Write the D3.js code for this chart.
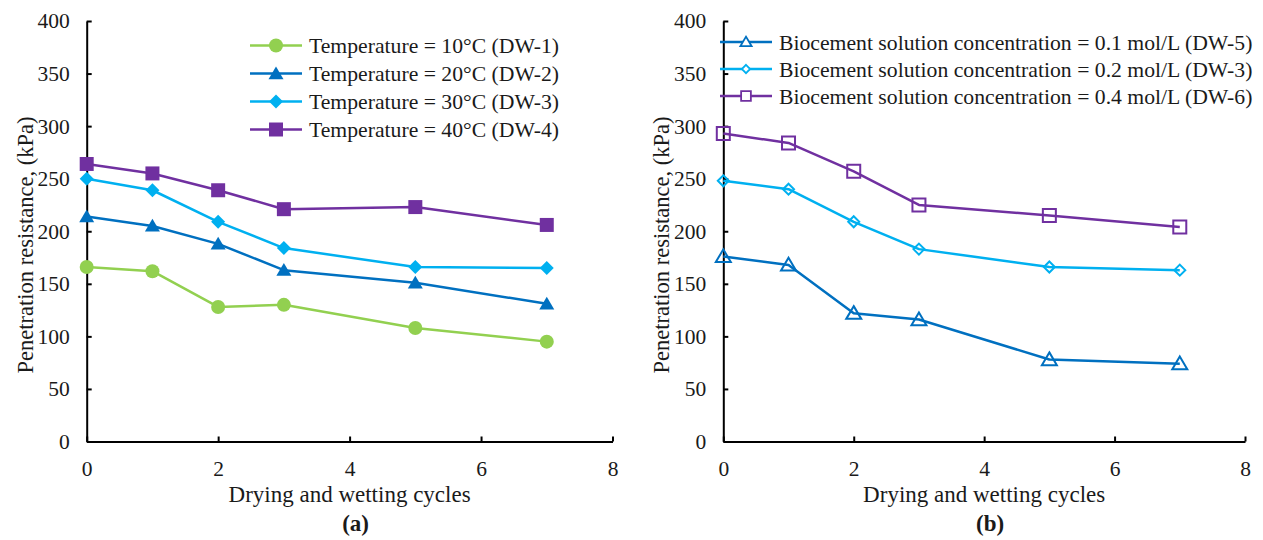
<!DOCTYPE html>
<html>
<head>
<meta charset="utf-8">
<script src="https://cdn.jsdelivr.net/npm/d3@7"></script>
<style>
  html, body { margin: 0; padding: 0; background: #fff; }
  svg { display: block; font-family: "Liberation Serif", "Times New Roman", serif; }
  .axis path, .axis line { stroke: #000; stroke-width: 2; }
  .axis text { fill: #1a1a1a; font-size: 21.5px; font-family: "Liberation Serif", "Times New Roman", serif; }
</style>
</head>
<body>
<svg id="chart" width="1263" height="540"></svg>
<script>
// ---- data ----
const cycles = [0, 1, 2, 3, 5, 7];
const xTicks = [0, 2, 4, 6, 8];
const yTicks = [0, 50, 100, 150, 200, 250, 300, 350, 400];

// panel (a): temperature
const dw1 = [166, 162, 128, 130, 108, 95];
const dw2 = [214, 205, 188, 163, 151, 131];
const dw3a = [250, 239, 209, 184, 166, 165];
const dw4 = [264, 255, 239, 221, 223, 206];
const labelsA = ["Temperature = 10°C (DW-1)", "Temperature = 20°C (DW-2)", "Temperature = 30°C (DW-3)", "Temperature = 40°C (DW-4)"];

// panel (b): biocement solution concentration
const dw5 = [176, 168, 122, 116, 78, 74];
const dw3b = [248, 240, 209, 183, 166, 163];
const dw6 = [293, 284, 257, 225, 215, 204];
const labelsB = ["Biocement solution concentration = 0.1 mol/L (DW-5)", "Biocement solution concentration = 0.2 mol/L (DW-3)", "Biocement solution concentration = 0.4 mol/L (DW-6)"];

const xTitle = "Drying and wetting cycles";
const yTitle = "Penetration resistance, (kPa)";

// ---- styles ----
const GREEN = "#92D050", DBLUE = "#0070C0", LBLUE = "#00B0F0", PURPLE = "#7030A0";
const TEXT = "#1a1a1a";

// custom marker shapes (size = half width)
const shapes = {
  circle: { draw(c, s) { c.moveTo(s, 0); c.arc(0, 0, s, 0, 2 * Math.PI); c.closePath(); } },
  triangle: { draw(c, s) { c.moveTo(0, -s * 0.95); c.lineTo(s, s * 0.75); c.lineTo(-s, s * 0.75); c.closePath(); } },
  diamond: { draw(c, s) { c.moveTo(0, -s); c.lineTo(s, 0); c.lineTo(0, s); c.lineTo(-s, 0); c.closePath(); } },
  square: { draw(c, s) { c.rect(-s, -s, 2 * s, 2 * s); } }
};

const seriesA = [
  { values: dw1, color: GREEN, shape: "circle", size: 7, label: labelsA[0] },
  { values: dw2, color: DBLUE, shape: "triangle", size: 7.5, label: labelsA[1] },
  { values: dw3a, color: LBLUE, shape: "diamond", size: 7, label: labelsA[2] },
  { values: dw4, color: PURPLE, shape: "square", size: 7, label: labelsA[3] }
];
const seriesB = [
  { values: dw5, color: DBLUE, shape: "triangle", size: 7.5, label: labelsB[0] },
  { values: dw3b, color: LBLUE, shape: "diamond", size: 5.5, label: labelsB[1] },
  { values: dw6, color: PURPLE, shape: "square", size: 6.5, label: labelsB[2] }
];

const svg = d3.select("#chart");

function panel(opt) {
  const x = d3.scaleLinear().domain([0, 8]).range([opt.x0, opt.x1]);
  const y = d3.scaleLinear().domain([0, 400]).range([441.5, 21]);
  const g = svg.append("g");

  // axes
  g.append("g").attr("class", "axis")
    .attr("transform", `translate(0,${y(0)})`)
    .call(d3.axisBottom(x).tickValues(xTicks).tickFormat(d3.format("d")).tickSizeInner(-5).tickSizeOuter(0).tickPadding(19));
  g.append("g").attr("class", "axis")
    .attr("transform", `translate(${x(0)},0)`)
    .call(d3.axisLeft(y).tickValues(yTicks).tickFormat(d3.format("d")).tickSizeInner(-5).tickSizeOuter(0).tickPadding(17));

  // lines + markers
  const line = d3.line().x((d, i) => x(cycles[i])).y(d => y(d));
  opt.series.forEach(s => {
    g.append("path").datum(s.values)
      .attr("fill", "none").attr("stroke", s.color).attr("stroke-width", 2.5)
      .attr("stroke-linejoin", "round").attr("d", line);
    const sym = d3.symbol().type(shapes[s.shape]).size(s.size);
    g.selectAll(null).data(s.values).enter().append("path")
      .attr("transform", (d, i) => `translate(${x(cycles[i])},${y(d)})`)
      .attr("d", sym)
      .attr("fill", opt.hollow ? "#fff" : s.color)
      .attr("fill-opacity", opt.hollow ? 0 : 1)
      .attr("stroke", s.color)
      .attr("stroke-width", opt.hollow ? 2 : 0);
  });

  // legend
  const lg = g.append("g");
  opt.series.forEach((s, i) => {
    const ly = opt.legY + i * opt.legDy;
    lg.append("line").attr("x1", opt.legX).attr("x2", opt.legX + 52)
      .attr("y1", ly).attr("y2", ly).attr("stroke", s.color).attr("stroke-width", 2.5);
    lg.append("path")
      .attr("transform", `translate(${opt.legX + 26},${ly})`)
      .attr("d", d3.symbol().type(shapes[s.shape]).size(opt.hollow ? s.size * 0.75 : s.size)())
      .attr("fill", opt.hollow ? "#fff" : s.color)
      .attr("stroke", s.color).attr("stroke-width", opt.hollow ? 1.8 : 0);
    lg.append("text").attr("x", opt.legX + 59).attr("y", ly).attr("dy", "0.35em")
      .attr("font-size", "21.7px").attr("fill", TEXT).text(s.label);
  });

  // titles
  const cx = (opt.x0 + opt.x1) / 2;
  g.append("text").attr("x", cx).attr("y", 501.5).attr("text-anchor", "middle")
    .attr("font-size", "23px").attr("fill", TEXT).text(xTitle);
  g.append("text").attr("transform", `translate(${opt.x0 - 54},245) rotate(-90)`)
    .attr("text-anchor", "middle").attr("font-size", "22.5px").attr("fill", TEXT).text(yTitle);
  g.append("text").attr("x", cx + 6).attr("y", 530.5).attr("text-anchor", "middle")
    .attr("font-size", "23px").attr("font-weight", "bold").attr("fill", TEXT).text(opt.tag);
}

panel({ x0: 86.7, x1: 612.5, series: seriesA, hollow: false, legX: 250, legY: 45.5, legDy: 28, tag: "(a)" });
panel({ x0: 723.3, x1: 1245, series: seriesB, hollow: true, legX: 720, legY: 42, legDy: 27, tag: "(b)" });
</script>
</body>
</html>
